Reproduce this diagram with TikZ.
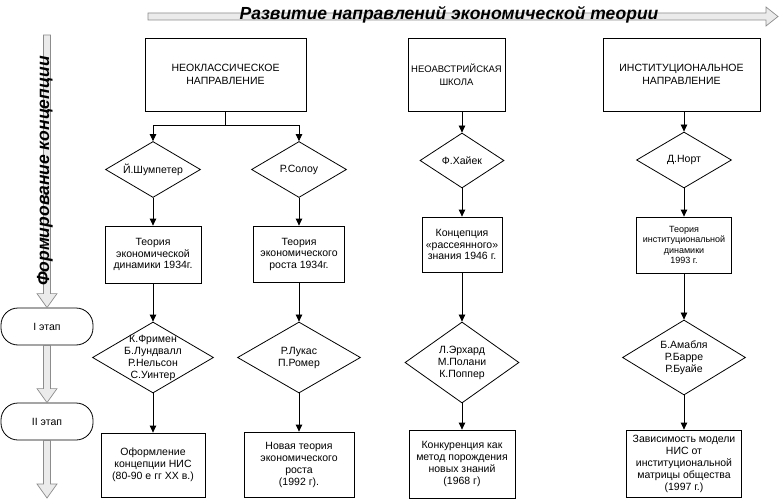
\documentclass[tikz,border=0pt]{standalone}
\usepackage{fontspec}
\setmainfont{Liberation Sans}
\usetikzlibrary{shapes.geometric,arrows.meta,calc}

\begin{document}
\begin{tikzpicture}[x=1pt,y=-1pt,line width=.8pt,
    box/.style={draw,rectangle,inner sep=1pt,align=center,font=\fontsize{10.5}{11.5}\selectfont},
    dia/.style={draw,diamond,inner sep=0pt},
    stage/.style={draw,rounded corners=17pt,minimum width=92pt,minimum height=37pt,font=\fontsize{10.5}{12}\selectfont},
    arr/.style={-{Triangle[length=7pt,width=6.5pt]}},
    hollow/.style={draw=black!45,fill=black!8,line width=.7pt},
    every label/.style={align=center,inner sep=0pt,font=\fontsize{10.5}{12}\selectfont}]

  \useasboundingbox (0,0) rectangle (779,500);

  % stages on the left
  \node[stage] (T1) at (47,326.5) {I этап};
  \node[stage] (T2) at (47,421.5) {II этап};
  \coordinate (Ftop) at (47,35);
  \coordinate (Fend) at (47,498);
  \foreach \a/\b in {Ftop/T1.north,T1.south/T2.north,T2.south/Fend} {
      \draw[hollow] ($(\a)+(-3.5,0)$) -- ($(\b)+(-3.5,-14)$) -- ($(\b)+(-10,-14)$) -- (\b) -- ($(\b)+(10,-14)$) -- ($(\b)+(3.5,-14)$) -- ($(\a)+(3.5,0)$) -- cycle;
  }
  \node[rotate=90,font=\bfseries\itshape\fontsize{17.5}{18}\selectfont] (Form) at (45,171) {Формирование концепции};

  % header arrow
  \coordinate (Hstart) at (148,16.5);\coordinate (Hend) at (778,16.5);
  \draw[hollow] ($(Hstart)+(0,-3.5)$) -- ($(Hend)+(-12,-3.5)$) -- ($(Hend)+(-12,-9.5)$) -- (Hend) -- ($(Hend)+(-12,9.5)$) -- ($(Hend)+(-12,3.5)$) -- ($(Hstart)+(0,3.5)$) -- cycle;
  \node[anchor=base,font=\bfseries\itshape\fontsize{17.5}{20}\selectfont] (Title) at (449,20) {Развитие направлений экономической теории};

  % top boxes
  \node[box,minimum width=161pt,minimum height=73pt,font=\fontsize{10.5}{13}\selectfont] (Neo) at (225.5,74.5) {НЕОКЛАССИЧЕСКОЕ\\НАПРАВЛЕНИЕ};
  \node[box,minimum width=97pt,minimum height=73pt,font=\fontsize{9.5}{13}\selectfont] (Austr) at (456.5,74.5) {НЕОАВСТРИЙСКАЯ\\ШКОЛА};
  \node[box,minimum width=157pt,minimum height=73pt,font=\fontsize{10.5}{13}\selectfont] (Inst) at (681.5,74.5) {ИНСТИТУЦИОНАЛЬНОЕ\\НАПРАВЛЕНИЕ};

  % authors
  \node[dia,minimum width=95pt,minimum height=56pt,label={center:Й.Шумпетер}] (Schum) at (153,169.5) {};
  \node[dia,minimum width=95pt,minimum height=56pt,label={center:Р.Солоу}] (Solow) at (299,169.5) {};
  \node[dia,minimum width=84pt,minimum height=55pt,label={center:Ф.Хайек}] (Hayek) at (462,160.5) {};
  \node[dia,minimum width=95pt,minimum height=56pt,label={center:Д.Норт}] (North) at (684,160) {};

  % theories
  \node[box,minimum width=96pt,minimum height=57pt] (Dyn) at (153,254.5) {Теория\\экономической\\динамики 1934г.};
  \node[box,minimum width=91pt,minimum height=56pt] (Growth) at (299,254) {Теория\\экономического\\роста 1934г.};
  \node[box,minimum width=80pt,minimum height=55pt] (Disp) at (462,244.5) {Концепция\\«рассеянного»\\знания 1946 г.};
  \node[box,minimum width=95pt,minimum height=56pt,font=\fontsize{9}{10.5}\selectfont] (InstDyn) at (684,245) {Теория\\институциональной\\динамики\\1993 г.};

  \node[dia,minimum width=121pt,minimum height=71pt,label={center:{К.Фримен\\Б.Лундвалл\\Р.Нельсон\\С.Уинтер}}] (Freeman) at (153,357.5) {};
  \node[dia,minimum width=123pt,minimum height=71pt,label={center:{Р.Лукас\\П.Ромер}}] (Lucas) at (299,357.5) {};
  \node[dia,minimum width=114pt,minimum height=81pt,label={center:{Л.Эрхард\\М.Полани\\К.Поппер}}] (Erhard) at (462,362.5) {};
  \node[dia,minimum width=123pt,minimum height=75pt,label={center:{Б.Амабля\\Р.Барре\\Р.Буайе}}] (Amable) at (684,357.5) {};

  \node[box,font=\fontsize{10.5}{12}\selectfont,minimum width=104pt,minimum height=64pt] (NIS) at (153,465) {Оформление\\концепции НИС\\(80-90 е гг XX в.)};
  \node[box,font=\fontsize{10.5}{12}\selectfont,minimum width=110pt,minimum height=65pt] (NewGrowth) at (299,464.5) {Новая теория\\экономического\\роста\\(1992 г).};
  \node[box,font=\fontsize{10.5}{12}\selectfont,minimum width=106pt,minimum height=68pt] (Compet) at (462,464) {Конкуренция как\\метод порождения\\новых знаний\\(1968 г)};
  \node[box,font=\fontsize{10.5}{12}\selectfont,minimum width=115pt,minimum height=67pt] (Depend) at (684,463.5) {Зависимость модели\\НИС от\\институциональной\\матрицы общества\\(1997 г.)};

  % connectors
  \coordinate (Split) at (225.5,125);
  \draw (Neo.south) -- (Split);
  \draw[arr] (Split) -| (Schum.north);
  \draw[arr] (Split) -| (Solow.north);
  \draw[arr] (Austr.south -| Hayek.north) -- (Hayek.north);
  \draw[arr] (Inst.south -| North.north) -- (North.north);
  \foreach \a/\b in {Schum/Dyn,Dyn/Freeman,Freeman/NIS,Solow/Growth,Growth/Lucas,Lucas/NewGrowth,Hayek/Disp,Disp/Erhard,Erhard/Compet,North/InstDyn,InstDyn/Amable,Amable/Depend} {
      \draw[arr] (\a) -- (\b);
  }

\end{tikzpicture}
\end{document}
